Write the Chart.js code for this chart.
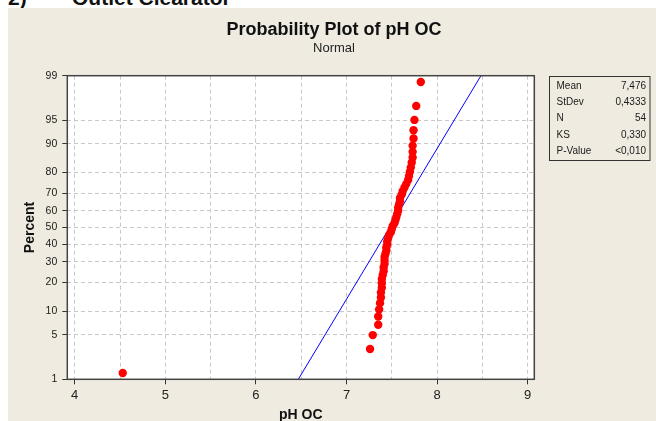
<!DOCTYPE html>
<html lang="en">
<head>
  <meta charset="UTF-8">
  <title>Probability Plot of pH OC</title>
  <script src="https://cdnjs.cloudflare.com/ajax/libs/Chart.js/4.3.0/chart.umd.js"></script>
  <style>
    html, body {
      margin: 0;
      padding: 0;
      width: 656px;
      height: 421px;
      overflow: hidden;
      background: #fff;
    }
    .heading {
      position: absolute;
      top: -13px;
      font: bold 21px "Liberation Sans", Arial, sans-serif;
      line-height: 21px;
      color: #111;
      white-space: nowrap;
    }
    canvas { position: absolute; left: 0; top: 0; }
  </style>
</head>
<body>
  <div class="heading" style="left:8px">2)</div>
  <div class="heading" style="left:72px">Outlet Clearator</div>
  <canvas id="chart" width="656" height="436"></canvas>

  <script>
    // pH readings, sorted
    const phValues = [
      4.53, 7.26, 7.29, 7.35, 7.35, 7.36, 7.37, 7.38, 7.38, 7.39,
      7.39, 7.39, 7.40, 7.41, 7.41, 7.42, 7.42, 7.42, 7.43, 7.44,
      7.44, 7.45, 7.45, 7.46, 7.47, 7.49, 7.50, 7.51, 7.53, 7.54,
      7.55, 7.56, 7.57, 7.57, 7.58, 7.59, 7.59, 7.61, 7.62, 7.64,
      7.66, 7.68, 7.69, 7.70, 7.71, 7.72, 7.73, 7.73, 7.73, 7.74,
      7.74, 7.75, 7.77, 7.82
    ];
    // plotted percent for each point
    const percentValues = [
      1.29, 3.13, 4.96, 6.80, 8.64, 10.48, 12.32, 14.15, 15.99, 17.83,
      19.67, 21.51, 23.35, 25.18, 27.02, 28.86, 30.70, 32.54, 34.38, 36.21,
      38.05, 39.89, 41.73, 43.57, 45.40, 47.24, 49.08, 50.92, 52.76, 54.60,
      56.43, 58.27, 60.11, 61.95, 63.79, 65.63, 67.46, 69.30, 71.14, 72.98,
      74.82, 76.65, 78.49, 80.33, 82.17, 84.01, 85.85, 87.68, 89.52, 91.36,
      93.20, 95.04, 96.88, 98.71
    ];
    const yTickPercents = [1, 5, 10, 20, 30, 40, 50, 60, 70, 80, 90, 95, 99];
    const xTickValues = [4, 4.5, 5, 5.5, 6, 6.5, 7, 7.5, 8, 8.5, 9];
    const statLabels = ['Mean', 'StDev', 'N', 'KS', 'P-Value'];
    const statValues = ['7,476', '0,4333', '54', '0,330', '<0,010'];
    const fitMean = 7.476;
    const fitStDev = 0.4333;

    // inverse normal cdf (Acklam)
    function probit(p) {
      const a = [-3.969683028665376e+01, 2.209460984245205e+02, -2.759285104469687e+02, 1.383577518672690e+02, -3.066479806614716e+01, 2.506628277459239e+00];
      const b = [-5.447609879822406e+01, 1.615858368580409e+02, -1.556989798598866e+02, 6.680131188771972e+01, -1.328068155288572e+01];
      const c = [-7.784894002430293e-03, -3.223964580411365e-01, -2.400758277161838e+00, -2.549732539343734e+00, 4.374664141464968e+00, 2.938163982698783e+00];
      const d = [7.784695709041462e-03, 3.224671290700398e-01, 2.445134137142996e+00, 3.754408661907416e+00];
      const pl = 0.02425;
      let q, r;
      if (p < pl) {
        q = Math.sqrt(-2 * Math.log(p));
        return (((((c[0] * q + c[1]) * q + c[2]) * q + c[3]) * q + c[4]) * q + c[5]) / ((((d[0] * q + d[1]) * q + d[2]) * q + d[3]) * q + 1);
      }
      if (p > 1 - pl) {
        q = Math.sqrt(-2 * Math.log(1 - p));
        return -(((((c[0] * q + c[1]) * q + c[2]) * q + c[3]) * q + c[4]) * q + c[5]) / ((((d[0] * q + d[1]) * q + d[2]) * q + d[3]) * q + 1);
      }
      q = p - 0.5;
      r = q * q;
      return (((((a[0] * r + a[1]) * r + a[2]) * r + a[3]) * r + a[4]) * r + a[5]) * q / (((((b[0] * r + b[1]) * r + b[2]) * r + b[3]) * r + b[4]) * r + 1);
    }

    const zMin = probit(yTickPercents[0] / 100);
    const zMax = probit(yTickPercents[yTickPercents.length - 1] / 100);

    const font = '"Liberation Sans", Arial, sans-serif';

    const backdrop = {
      id: 'backdrop',
      beforeDraw(chart) {
        const ctx = chart.ctx;
        ctx.save();
        ctx.fillStyle = '#efebe1';
        ctx.fillRect(8, 8, chart.width - 8, chart.height - 8);
        const a = chart.chartArea;
        ctx.fillStyle = '#fff';
        ctx.fillRect(a.left, a.top, a.right - a.left, a.bottom - a.top);
        ctx.restore();
      },
      afterDraw(chart) {
        const ctx = chart.ctx;
        const a = chart.chartArea;
        ctx.save();
        ctx.strokeStyle = '#444';
        ctx.lineWidth = 1.5;
        ctx.strokeRect(a.left, a.top, a.right - a.left, a.bottom - a.top);

        // stats box
        ctx.lineWidth = 1;
        ctx.strokeStyle = '#333';
        ctx.strokeRect(549.5, 76.5, 100.5, 84);
        ctx.fillStyle = '#1a1a1a';
        ctx.font = '10px ' + font;
        ctx.textBaseline = 'middle';
        statLabels.forEach((lab, i) => {
          const y = 86 + i * 16.25;
          ctx.textAlign = 'left';
          ctx.fillText(lab, 556.5, y);
          ctx.textAlign = 'right';
          ctx.fillText(statValues[i], 646, y);
        });
        ctx.restore();
      }
    };

    new Chart(document.getElementById('chart'), {
      type: 'scatter',
      data: {
        datasets: [
          {
            type: 'line',
            order: 2,
            data: [
              { x: fitMean + fitStDev * zMin, y: zMin },
              { x: fitMean + fitStDev * zMax, y: zMax }
            ],
            borderColor: '#0000ff',
            borderWidth: 1,
            pointRadius: 0,
            fill: false
          },
          {
            order: 1,
            data: phValues.map((v, i) => ({ x: v, y: probit(percentValues[i] / 100) })),
            backgroundColor: '#ff0000',
            borderWidth: 0,
            pointRadius: 4.2
          }
        ]
      },
      options: {
        responsive: false,
        animation: false,
        devicePixelRatio: 1,
        layout: { padding: { left: 12, right: 0, top: 0, bottom: 0 } },
        plugins: {
          legend: { display: false },
          tooltip: { enabled: false },
          title: {
            display: true,
            text: 'Probability Plot of pH OC',
            color: '#111',
            font: { family: font, size: 18, weight: 'bold', lineHeight: 1.2 },
            padding: { top: 19, bottom: 0 }
          },
          subtitle: {
            display: true,
            text: 'Normal',
            color: '#222',
            font: { family: font, size: 13, lineHeight: 1.2 },
            padding: { top: 0, bottom: 19.5 }
          }
        },
        scales: {
          x: {
            type: 'linear',
            min: 3.918,
            max: 9.073,
            afterBuildTicks: s => { s.ticks = xTickValues.map(v => ({ value: v })); },
            afterFit: s => { s.height = 436 - 379.3; },
            ticks: {
              autoSkip: false,
              maxRotation: 0,
              padding: 3,
              color: '#222',
              font: { family: font, size: 13 },
              callback: v => Number.isInteger(v) ? v : ''
            },
            grid: {
              color: '#c8c8c8',
              tickLength: 5,
              tickColor: c => Number.isInteger(c.tick && c.tick.value) ? '#333' : 'rgba(0,0,0,0)'
            },
            border: { display: false, dash: [4, 3] },
            title: {
              display: true,
              text: 'pH OC',
              color: '#111',
              font: { family: font, size: 14, weight: 'bold', lineHeight: 1.2 },
              padding: { top: 0, bottom: 12.6 }
            }
          },
          y: {
            type: 'linear',
            min: zMin,
            max: zMax,
            afterBuildTicks: s => { s.ticks = yTickPercents.map(p => ({ value: probit(p / 100) })); },
            afterFit: s => { s.width = 67.3 - 12; },
            ticks: {
              autoSkip: false,
              padding: 5,
              color: '#1a1a1a',
              font: { family: font, size: 10.5 },
              callback: (v, i) => yTickPercents[i]
            },
            grid: {
              color: c => {
                const i = c.index;
                return (i === 0 || i === yTickPercents.length - 1) ? 'rgba(0,0,0,0)' : '#c8c8c8';
              },
              tickLength: 5,
              tickColor: '#333'
            },
            border: { display: false, dash: [4, 3] },
            title: {
              display: true,
              text: 'Percent',
              color: '#111',
              font: { family: font, size: 14, weight: 'bold', lineHeight: 1.2 },
              padding: { top: 9.6, bottom: 0 }
            }
          },
          side: {
            type: 'linear',
            position: 'right',
            display: true,
            afterFit: s => { s.width = 656 - 534.3; },
            ticks: { display: false },
            grid: { display: false, drawTicks: false },
            border: { display: false }
          }
        }
      },
      plugins: [backdrop]
    });
  </script>
</body>
</html>
